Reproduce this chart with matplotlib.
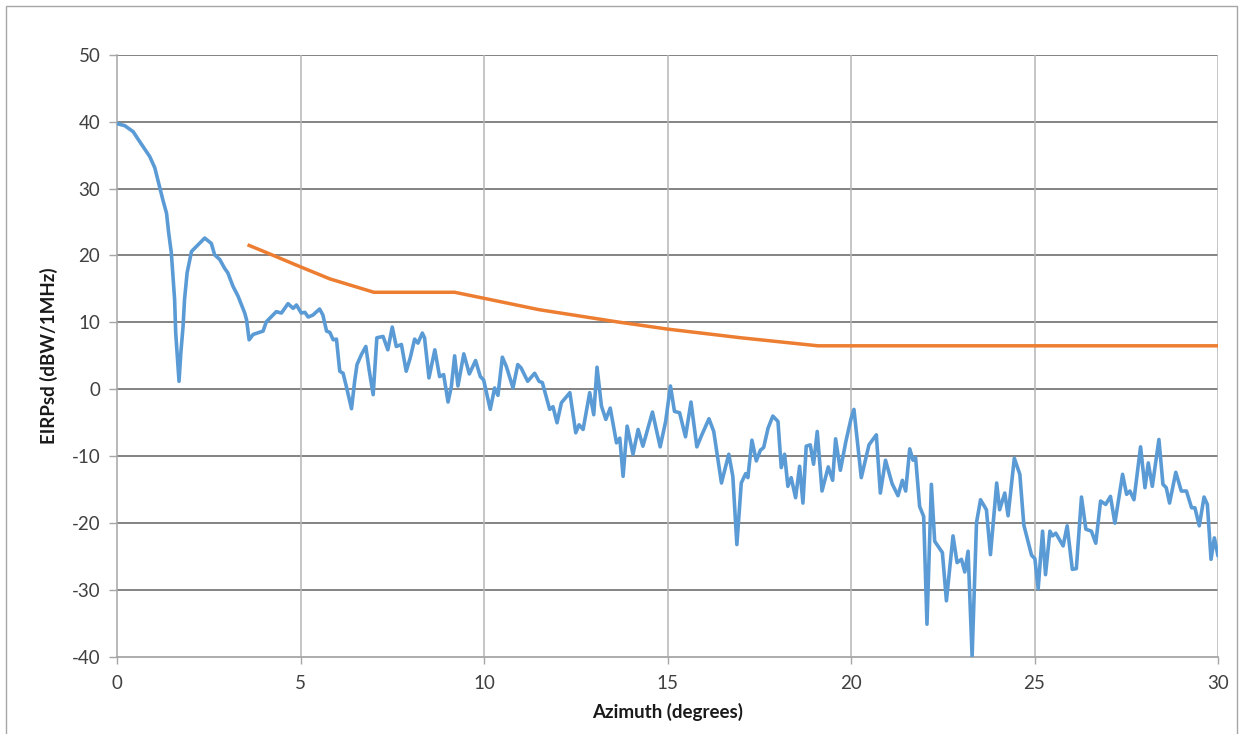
import matplotlib
matplotlib.use("Agg")
import matplotlib.pyplot as plt
from matplotlib.patches import Rectangle

# Measured antenna EIRP spectral density versus azimuth
azimuth = [0.00, 0.21, 0.44, 0.62, 0.89, 1.03, 1.16, 1.25, 1.35, 1.41, 1.48, 1.57, 1.60, 1.69, 1.74,
           1.80, 1.84, 1.91, 2.03, 2.21, 2.39, 2.57, 2.66,
           2.80, 2.93, 3.02, 3.16, 3.30, 3.48, 3.53, 3.60, 3.71, 3.98, 4.07, 4.25, 4.34, 4.48, 4.66,
           4.80, 4.89, 5.02, 5.12, 5.21, 5.34, 5.52, 5.61, 5.71, 5.80, 5.89, 5.98, 6.07, 6.16, 6.25,
           6.39, 6.48, 6.54, 6.66, 6.78, 6.87, 6.98, 7.08, 7.25, 7.38, 7.50, 7.61, 7.75, 7.88, 7.99,
           8.11, 8.20, 8.32, 8.38, 8.50, 8.66, 8.79, 8.90, 9.02, 9.11, 9.20, 9.29, 9.45, 9.60, 9.77,
           9.90, 9.99, 10.17, 10.29, 10.38, 10.50, 10.61, 10.79, 10.92, 11.01, 11.19, 11.38, 11.50,
           11.59, 11.79, 11.88, 11.99, 12.11, 12.34, 12.50, 12.59, 12.70, 12.88, 12.99, 13.08, 13.20,
           13.32, 13.44, 13.61, 13.70, 13.79, 13.90, 14.06, 14.20, 14.33, 14.59, 14.80, 14.95, 15.08,
           15.19, 15.33, 15.49, 15.64, 15.80, 15.92, 16.13, 16.26, 16.47, 16.67, 16.78, 16.89, 17.01,
           17.13, 17.19, 17.30, 17.42, 17.53, 17.62, 17.74, 17.87, 18.01, 18.10, 18.19, 18.28, 18.37,
           18.49, 18.60, 18.69, 18.78, 18.89, 18.98, 19.08, 19.21, 19.38, 19.50, 19.58, 19.71, 19.86,
           20.00, 20.08, 20.28, 20.49, 20.69, 20.80, 20.94, 21.12, 21.28, 21.40, 21.49, 21.60, 21.69,
           21.76, 21.87, 21.98, 22.07, 22.19, 22.28, 22.49, 22.60, 22.78, 22.89, 23.01, 23.10, 23.19,
           23.30, 23.42, 23.53, 23.69, 23.80, 23.97, 24.05, 24.19, 24.28, 24.45, 24.60, 24.71, 24.92,
           25.01, 25.10, 25.22, 25.30, 25.42, 25.49, 25.58, 25.78, 25.89, 26.03, 26.14, 26.28, 26.40,
           26.55, 26.67, 26.80, 26.94, 27.07, 27.19, 27.40, 27.51, 27.60, 27.71, 27.89, 28.01, 28.10,
           28.21, 28.39, 28.50, 28.59, 28.68, 28.85, 29.00, 29.14, 29.28, 29.37, 29.49, 29.62, 29.71,
           29.81, 29.90, 30.00]
eirpsd = [39.7, 39.4, 38.5, 37.0, 34.8, 33.1, 30.3, 28.3, 26.3, 23.3, 20.4, 13.4, 8.4, 1.2, 5.5,
          9.4, 13.4, 17.4, 20.6, 21.6, 22.6, 21.8, 20.1,
          19.4, 18.1, 17.4, 15.4, 13.9, 11.4, 10.4, 7.4, 8.2, 8.7, 10.1, 11.1, 11.6, 11.4, 12.8,
          12.1, 12.6, 11.4, 11.5, 10.8, 11.1, 12.0, 11.1, 8.7, 8.5, 7.4, 7.5, 2.7, 2.4, 0.4,
          -2.9, 1.4, 3.7, 5.2, 6.4, 2.9, -0.8, 7.7, 7.9, 5.9, 9.3, 6.4, 6.7, 2.7, 4.7,
          7.5, 6.9, 8.4, 7.7, 1.7, 5.9, 1.9, 2.2, -1.9, 0.4, 5.0, 0.5, 5.3, 2.3, 4.3,
          1.9, 1.4, -3.0, 0.2, -0.9, 4.8, 3.4, 0.2, 3.7, 3.2, 1.2, 2.4, 1.2,
          1.0, -3.0, -2.6, -5.0, -2.0, -0.5, -6.5, -5.3, -6.0, -0.5, -3.8, 3.3, -2.5,
          -4.5, -2.8, -8.0, -7.3, -13.0, -5.5, -9.7, -6.0, -8.5, -3.4, -8.6, -4.8, 0.5,
          -3.3, -3.5, -7.1, -1.9, -8.6, -7.0, -4.4, -6.3, -14.0, -9.7, -13.0, -23.2, -14.0,
          -12.6, -13.2, -7.6, -10.7, -9.1, -8.7, -5.8, -4.0, -4.8, -11.7, -9.7, -14.5, -13.2,
          -16.2, -11.5, -17.0, -8.5, -8.3, -11.2, -6.3, -15.2, -11.6, -13.6, -7.4, -12.1, -7.8,
          -4.4, -3.0, -13.2, -8.3, -6.8, -15.5, -10.6, -14.1, -15.9, -13.6, -15.2, -8.9, -10.6,
          -10.2, -17.5, -19.0, -35.1, -14.2, -22.7, -24.4, -31.6, -21.9, -25.9, -25.4, -27.3, -24.2,
          -39.9, -19.9, -16.5, -18.0, -24.7, -14.0, -18.0, -15.5, -18.9, -10.3, -12.7, -20.3, -24.8,
          -25.3, -29.8, -21.2, -27.7, -21.2, -21.9, -21.5, -23.4, -20.4, -26.9, -26.8, -16.1, -20.9,
          -21.2, -23.0, -16.7, -17.2, -16.0, -20.0, -12.7, -15.7, -15.2, -16.5, -8.6, -14.7, -11.0,
          -14.5, -7.5, -14.2, -14.7, -17.0, -12.4, -15.2, -15.2, -17.7, -17.7, -20.4, -16.1, -17.2,
          -25.4, -22.2, -24.9]

# Off-axis EIRP density mask
mask_azimuth = [3.6, 4.0, 5.0, 5.8, 7.0, 9.2, 10.0, 11.5, 13.6, 15.0, 17.0, 19.1, 30.0]
mask_eirpsd = [21.5, 20.6, 18.3, 16.5, 14.5, 14.5, 13.6, 11.9, 10.1, 9.0, 7.7, 6.5, 6.5]

x_ticks = [0, 5, 10, 15, 20, 25, 30]
y_ticks = [-40, -30, -20, -10, 0, 10, 20, 30, 40, 50]

plt.rcParams['font.family'] = ['Lato', 'DejaVu Sans']
plt.rcParams['axes.unicode_minus'] = False

fig = plt.figure(figsize=(12.43, 7.34), dpi=100)
ax = fig.add_axes([117 / 1243, 1 - 657 / 734, 1101 / 1243, (657 - 54.7) / 734])

# chart-area border
fig.patches.append(Rectangle((6 / 1243, -0.05), 1231 / 1243, 1.05 - 6 / 734,
                             transform=fig.transFigure, fill=False,
                             edgecolor='#a6a6a6', linewidth=1.0))

ax.plot(azimuth, eirpsd, color='#5B9BD5', linewidth=2.6, solid_joinstyle='round',
        solid_capstyle='round', zorder=3)
ax.plot(mask_azimuth, mask_eirpsd, color='#ED7D31', linewidth=2.5, solid_joinstyle='round',
        zorder=4)

ax.set_xlim(0, 30)
ax.set_ylim(-40, 50)
ax.set_xticks(x_ticks)
ax.set_yticks(y_ticks)

for v in y_ticks[1:]:
    ax.axhline(v, color='#7a7a7a', linewidth=1.3, zorder=1)
for v in x_ticks[1:]:
    ax.axvline(v, color='#b5b5b5', linewidth=1.1, zorder=1)

for side in ['top', 'right']:
    ax.spines[side].set_visible(False)
ax.spines['left'].set_color('#a6a6a6')
ax.spines['bottom'].set_color('#a6a6a6')
ax.spines['left'].set_linewidth(1.1)
ax.spines['bottom'].set_linewidth(1.3)

ax.tick_params(axis='both', colors='#a6a6a6', labelcolor='#404040', labelsize=13.5,
               direction='out', width=1.0)
ax.tick_params(axis='y', length=6, pad=6)
ax.tick_params(axis='x', length=5, pad=8)

ax.set_xlabel('Azimuth (degrees)', fontsize=13.5, fontweight='bold', color='#1a1a1a', labelpad=8)
ax.set_ylabel('EIRPsd (dBW/1MHz)', fontsize=13.5, fontweight='bold', color='#1a1a1a', labelpad=10)

fig.savefig('out.png', dpi=100)
